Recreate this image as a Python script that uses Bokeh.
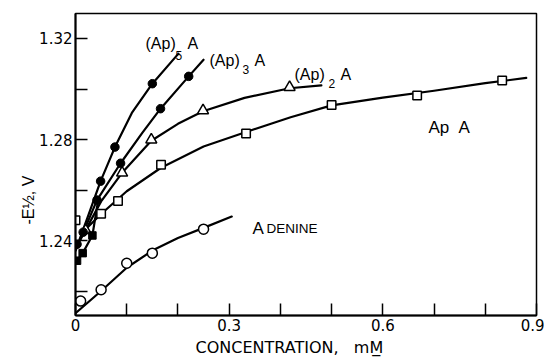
from bokeh.plotting import figure
from bokeh.models import FixedTicker, Label, Title
from bokeh.embed import file_html
from bokeh.resources import INLINE

# ---- data ----
# Adenine (open circles)
adenine_x = [0.01, 0.05, 0.10, 0.15, 0.25]
adenine_y = [1.2160, 1.2205, 1.2310, 1.2350, 1.2445]
adenine_curve_x = [0.0, 0.05, 0.10, 0.15, 0.20, 0.25, 0.305]
adenine_curve_y = [1.2112, 1.2200, 1.2292, 1.2360, 1.2410, 1.2450, 1.2495]

# ApA (open squares)
apa_x = [0.0, 0.05, 0.083, 0.167, 0.333, 0.50, 0.667, 0.833]
apa_y = [1.2480, 1.2506, 1.2556, 1.2700, 1.2824, 1.2937, 1.2974, 1.3034]
apa_curve_x = [0.01, 0.05, 0.10, 0.167, 0.25, 0.333, 0.42, 0.50, 0.60, 0.70, 0.80, 0.88]
apa_curve_y = [1.2425, 1.2505, 1.2595, 1.2688, 1.2772, 1.2830, 1.2888, 1.2935, 1.2966, 1.2993, 1.3023, 1.3044]

# (Ap)2A (open triangles)
ap2_x = [0.02, 0.091, 0.148, 0.249, 0.418]
ap2_y = [1.2440, 1.2668, 1.2799, 1.2915, 1.3007]
ap2_curve_x = [0.01, 0.05, 0.091, 0.148, 0.20, 0.249, 0.33, 0.418, 0.48]
ap2_curve_y = [1.2405, 1.2555, 1.2668, 1.2795, 1.2862, 1.2912, 1.2965, 1.3003, 1.3014]

# (Ap)3A (filled circles)
ap3_x = [0.015, 0.042, 0.088, 0.166, 0.221]
ap3_y = [1.2433, 1.2560, 1.2706, 1.2922, 1.3050]
ap3_curve_x = [0.0, 0.042, 0.088, 0.13, 0.166, 0.221, 0.25]
ap3_curve_y = [1.2360, 1.2560, 1.2706, 1.2825, 1.2922, 1.3050, 1.3116]

# (Ap)5A (filled circles)
ap5_x = [0.003, 0.049, 0.077, 0.150]
ap5_y = [1.2385, 1.2635, 1.2770, 1.3021]
ap5_curve_x = [0.0, 0.025, 0.049, 0.077, 0.11, 0.15, 0.201]
ap5_curve_y = [1.2360, 1.2500, 1.2635, 1.2770, 1.2905, 1.3021, 1.3140]

# filled squares (low concentration points)
fsq_x = [0.003, 0.014, 0.033]
fsq_y = [1.2320, 1.2350, 1.2420]
fsq_curve_x = [0.003, 0.014, 0.033, 0.045]
fsq_curve_y = [1.2320, 1.2350, 1.2420, 1.2570]

x_major = [0.0, 0.3, 0.6, 0.9]
x_minor = [0.1, 0.2, 0.4, 0.5, 0.7, 0.8]
y_major = [1.24, 1.28, 1.32]
y_minor = [1.22, 1.26, 1.30]

x_title = "CONCENTRATION,\u00a0\u00a0\u00a0mM\u0332"
y_title = "-E\u00bd, V"

# ---- figure ----
p = figure(width=544, height=361, x_range=(0, 0.9), y_range=(1.2103, 1.3299),
           output_backend="svg", toolbar_location=None,
           min_border_left=75, min_border_right=8, min_border_top=13, min_border_bottom=46)
p.grid.visible = False
p.outline_line_color = "black"
p.outline_line_width = 1.5
p.background_fill_color = "white"
p.border_fill_color = "white"

for ax in (p.xaxis[0], p.yaxis[0]):
    ax.axis_line_width = 2
    ax.axis_line_color = "black"
    ax.major_tick_in = 12
    ax.major_tick_out = 0
    ax.minor_tick_in = 12
    ax.minor_tick_out = 0
    ax.major_tick_line_width = 1.5
    ax.minor_tick_line_width = 1.5
    ax.major_label_text_font = "DejaVu Sans"
    ax.major_label_text_font_size = "15px"
    ax.major_label_text_color = "black"

p.xaxis.ticker = FixedTicker(ticks=x_major, minor_ticks=x_minor)
p.yaxis.ticker = FixedTicker(ticks=y_major, minor_ticks=y_minor)
p.xaxis.major_label_overrides = {0: "0", 0.3: "0.3", 0.6: "0.6", 0.9: "0.9"}
p.xaxis.major_label_standoff = 3
p.yaxis.major_label_standoff = 3

# axis titles as side-panel titles (aligned like the reference)
p.add_layout(Title(text=x_title, align="left", offset=120, standoff=4,
                   text_font="DejaVu Sans", text_font_size="16px",
                   text_font_style="normal", text_color="black"), "below")
p.add_layout(Title(text=y_title, align="left", offset=91, standoff=0,
                   text_font="Liberation Sans", text_font_size="16px",
                   text_font_style="normal", text_color="black"), "left")

LW = 2.2
for cx, cy in [(adenine_curve_x, adenine_curve_y), (apa_curve_x, apa_curve_y),
               (ap2_curve_x, ap2_curve_y), (ap3_curve_x, ap3_curve_y),
               (ap5_curve_x, ap5_curve_y), (fsq_curve_x, fsq_curve_y)]:
    p.line(cx, cy, line_color="black", line_width=LW, line_join="round", line_cap="round")

p.scatter(adenine_x, adenine_y, marker="circle", size=10, fill_color="white", line_color="black", line_width=1.5)
p.scatter(apa_x, apa_y, marker="square", size=8.5, fill_color="white", line_color="black", line_width=1.5)
p.scatter(ap2_x, ap2_y, marker="triangle", size=11, fill_color="white", line_color="black", line_width=1.5)
p.scatter(ap3_x, ap3_y, marker="circle", size=8.5, fill_color="black", line_color="black")
p.scatter(ap5_x, ap5_y, marker="circle", size=8.5, fill_color="black", line_color="black")
p.scatter(fsq_x, fsq_y, marker="square", size=7.5, fill_color="black", line_color="black")

# ---- series labels (screen units relative to the frame) ----
def lab(text, ix, iy, size, font="Liberation Sans"):
    p.add_layout(Label(x=ix - 75, y=315 - iy, x_units="screen", y_units="screen",
                       text=text, text_font=font, text_font_size=f"{size}px",
                       text_color="black", text_align="left", text_baseline="alphabetic"))

lab("(Ap)", 145, 43, 16)
lab("5", 175, 55, 12)
lab("A", 187, 43, 16)

lab("(Ap)", 209, 60, 16)
lab("3", 242, 69, 12)
lab("A", 254, 60, 16)

lab("(Ap)", 294, 74, 16)
lab("2", 328, 83, 12)
lab("A", 340, 74, 16)

lab("Ap", 428, 127, 17)
lab("A", 458, 127, 17)

lab("A", 252, 228, 17)
lab("DENINE", 266, 228, 13.5)

open("out.html", "w").write(file_html(p, INLINE))
